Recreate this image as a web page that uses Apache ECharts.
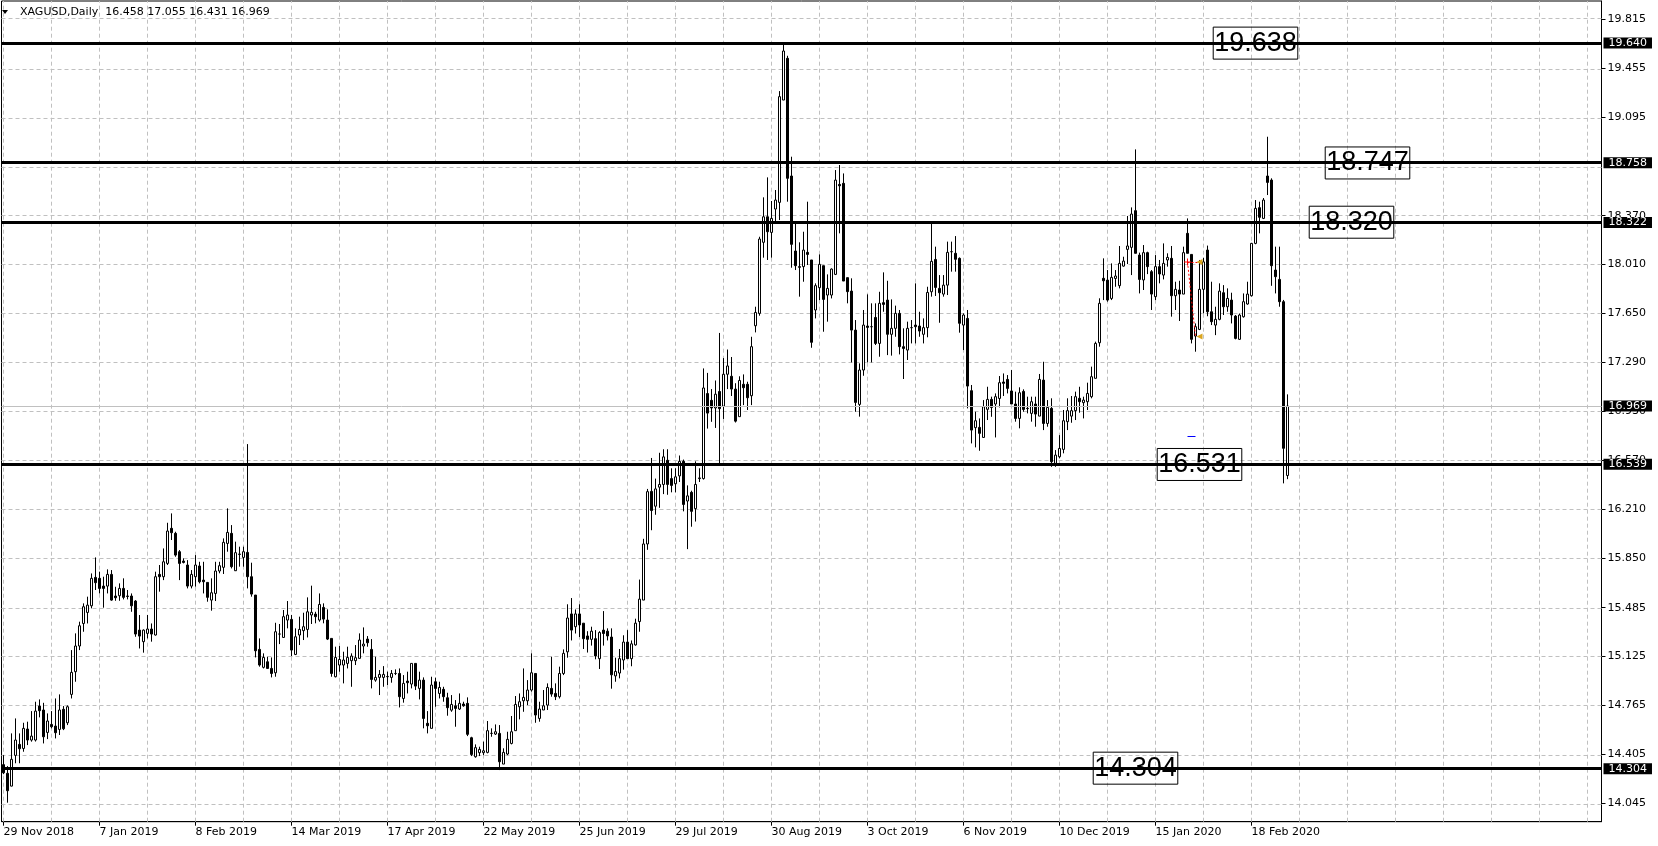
<!DOCTYPE html>
<html>
<head>
<meta charset="utf-8">
<title>XAGUSD Daily</title>
<script src="https://cdn.jsdelivr.net/npm/echarts@6/dist/echarts.min.js"></script>
<style>
  html, body { margin: 0; padding: 0; background: #fff; }
  #chart { width: 1658px; height: 846px; }
</style>
</head>
<body>
<div id="chart"></div>
<script>
// daily bars [open, high, low, close], first bar 29 Nov 2018, last 2 Mar 2020
const ohlc = [
  [14.330, 14.400, 14.260, 14.270], [14.266, 14.319, 14.050, 14.138], [14.172, 14.560, 14.170, 14.369],
  [14.398, 14.670, 14.340, 14.511], [14.479, 14.560, 14.340, 14.447], [14.449, 14.638, 14.425, 14.597],
  [14.592, 14.646, 14.474, 14.511], [14.511, 14.724, 14.499, 14.540], [14.511, 14.793, 14.500, 14.724],
  [14.761, 14.810, 14.678, 14.727], [14.732, 14.785, 14.486, 14.535], [14.567, 14.707, 14.518, 14.651],
  [14.626, 14.724, 14.597, 14.609], [14.614, 14.817, 14.523, 14.565], [14.589, 14.847, 14.548, 14.732],
  [14.737, 14.761, 14.584, 14.594], [14.638, 14.766, 14.621, 14.756], [14.847, 15.173, 14.817, 15.009],
  [15.014, 15.296, 14.940, 15.203], [15.203, 15.382, 15.173, 15.352], [15.369, 15.517, 15.308, 15.492],
  [15.450, 15.566, 15.369, 15.504], [15.499, 15.737, 15.480, 15.701], [15.708, 15.855, 15.615, 15.669],
  [15.701, 15.750, 15.590, 15.627], [15.644, 15.713, 15.485, 15.627], [15.644, 15.767, 15.590, 15.730],
  [15.730, 15.762, 15.536, 15.541], [15.571, 15.639, 15.536, 15.558], [15.573, 15.664, 15.536, 15.627],
  [15.627, 15.701, 15.546, 15.561], [15.571, 15.615, 15.546, 15.568], [15.571, 15.590, 15.455, 15.499],
  [15.534, 15.541, 15.271, 15.291], [15.320, 15.431, 15.185, 15.276], [15.235, 15.325, 15.154, 15.320],
  [15.296, 15.431, 15.259, 15.328], [15.328, 15.369, 15.235, 15.291], [15.284, 15.750, 15.280, 15.713],
  [15.730, 15.799, 15.603, 15.713], [15.713, 15.921, 15.688, 15.823], [15.811, 16.110, 15.799, 16.049],
  [16.069, 16.179, 15.983, 16.037], [16.032, 16.044, 15.860, 15.872], [15.897, 15.909, 15.688, 15.811],
  [15.828, 15.848, 15.811, 15.818], [15.799, 15.835, 15.627, 15.644], [15.644, 15.762, 15.627, 15.730],
  [15.713, 15.872, 15.640, 15.799], [15.792, 15.823, 15.664, 15.676], [15.688, 15.823, 15.590, 15.676],
  [15.671, 15.671, 15.529, 15.561], [15.541, 15.701, 15.463, 15.595], [15.590, 15.823, 15.534, 15.755],
  [15.755, 15.823, 15.738, 15.794], [15.782, 15.995, 15.733, 15.966], [15.958, 16.216, 15.897, 16.039],
  [16.032, 16.093, 15.774, 15.787], [15.757, 15.971, 15.755, 15.890], [15.877, 15.934, 15.787, 15.880],
  [15.855, 15.934, 15.787, 15.897], [15.892, 16.689, 15.627, 15.713], [15.713, 15.816, 15.566, 15.585],
  [15.578, 15.578, 15.119, 15.168], [15.178, 15.259, 15.051, 15.063], [15.046, 15.149, 15.038, 15.119],
  [15.087, 15.124, 15.038, 15.038], [15.038, 15.119, 14.972, 15.001], [15.006, 15.374, 14.977, 15.308],
  [15.291, 15.365, 15.217, 15.291], [15.266, 15.468, 15.266, 15.419], [15.394, 15.534, 15.333, 15.431],
  [15.399, 15.431, 15.129, 15.173], [15.141, 15.333, 15.136, 15.271], [15.284, 15.419, 15.210, 15.325],
  [15.316, 15.448, 15.247, 15.345], [15.325, 15.561, 15.266, 15.455], [15.431, 15.647, 15.365, 15.451],
  [15.438, 15.455, 15.370, 15.419], [15.394, 15.590, 15.382, 15.509], [15.487, 15.517, 15.370, 15.401],
  [15.394, 15.473, 15.247, 15.254], [15.259, 15.259, 14.977, 15.001], [14.977, 15.198, 14.972, 15.119],
  [15.063, 15.203, 15.014, 15.104], [15.063, 15.161, 14.928, 15.100], [15.075, 15.198, 15.038, 15.119],
  [15.095, 15.149, 14.903, 15.129], [15.095, 15.210, 15.063, 15.117], [15.112, 15.296, 15.112, 15.247],
  [15.203, 15.340, 15.149, 15.217], [15.254, 15.276, 15.198, 15.227], [15.178, 15.254, 14.891, 14.957],
  [14.952, 15.124, 14.940, 14.972], [14.972, 15.026, 14.842, 14.994], [14.972, 15.055, 14.903, 14.994],
  [14.977, 15.014, 14.916, 14.979], [14.972, 15.026, 14.933, 15.001], [15.001, 15.031, 14.989, 15.001],
  [15.001, 15.038, 14.751, 14.830], [14.817, 14.989, 14.786, 14.928], [14.945, 15.014, 14.854, 14.933],
  [14.923, 15.075, 14.891, 15.075], [15.075, 15.075, 14.879, 14.908], [14.891, 15.014, 14.810, 14.952],
  [14.952, 14.972, 14.597, 14.670], [14.634, 14.724, 14.560, 14.616], [14.597, 14.977, 14.597, 14.916],
  [14.940, 14.970, 14.756, 14.891], [14.854, 14.940, 14.817, 14.898], [14.884, 14.903, 14.793, 14.830],
  [14.822, 14.859, 14.690, 14.749], [14.731, 14.842, 14.719, 14.773], [14.763, 14.805, 14.609, 14.744],
  [14.739, 14.854, 14.732, 14.781], [14.776, 14.793, 14.756, 14.763], [14.781, 14.825, 14.540, 14.553],
  [14.528, 14.535, 14.393, 14.405], [14.388, 14.479, 14.381, 14.455], [14.418, 14.462, 14.393, 14.442],
  [14.418, 14.499, 14.400, 14.432], [14.420, 14.651, 14.413, 14.580], [14.560, 14.597, 14.535, 14.560],
  [14.555, 14.626, 14.548, 14.572], [14.560, 14.621, 14.290, 14.351], [14.334, 14.450, 14.334, 14.420],
  [14.408, 14.572, 14.400, 14.516], [14.486, 14.688, 14.479, 14.572], [14.580, 14.835, 14.580, 14.773],
  [14.756, 14.854, 14.663, 14.793], [14.800, 15.038, 14.719, 14.825], [14.800, 14.952, 14.768, 14.879],
  [14.879, 15.149, 14.867, 15.006], [15.001, 15.001, 14.638, 14.695], [14.670, 14.793, 14.646, 14.739],
  [14.732, 14.879, 14.732, 14.763], [14.768, 14.928, 14.732, 14.898], [14.891, 15.124, 14.830, 14.849],
  [14.854, 14.928, 14.805, 14.830], [14.830, 15.051, 14.817, 15.001], [15.001, 15.178, 14.989, 15.149],
  [15.160, 15.510, 15.117, 15.409], [15.439, 15.556, 15.244, 15.320], [15.345, 15.472, 15.295, 15.439],
  [15.439, 15.510, 15.269, 15.358], [15.371, 15.371, 15.181, 15.257], [15.277, 15.312, 15.155, 15.252],
  [15.252, 15.345, 15.206, 15.312], [15.257, 15.320, 15.105, 15.130], [15.110, 15.312, 15.034, 15.302],
  [15.320, 15.460, 15.206, 15.295], [15.312, 15.333, 15.244, 15.277], [15.269, 15.333, 14.889, 14.991],
  [14.983, 15.117, 14.940, 15.016], [15.004, 15.181, 14.965, 15.110], [15.100, 15.282, 15.029, 15.232],
  [15.232, 15.320, 15.110, 15.110], [15.110, 15.244, 15.054, 15.219], [15.211, 15.404, 15.206, 15.371],
  [15.383, 15.692, 15.308, 15.548], [15.541, 15.992, 15.541, 15.954], [15.954, 16.359, 15.911, 16.339],
  [16.341, 16.587, 16.055, 16.200], [16.232, 16.435, 16.169, 16.359], [16.372, 16.625, 16.220, 16.392],
  [16.392, 16.651, 16.321, 16.595], [16.570, 16.651, 16.316, 16.392], [16.435, 16.511, 16.334, 16.385],
  [16.397, 16.511, 16.334, 16.448], [16.455, 16.605, 16.410, 16.562], [16.562, 16.575, 16.194, 16.245],
  [16.270, 16.385, 15.916, 16.308], [16.334, 16.346, 16.081, 16.194], [16.214, 16.562, 16.119, 16.392],
  [16.435, 16.511, 16.410, 16.440], [16.435, 17.246, 16.428, 17.102], [17.061, 17.213, 16.803, 16.917],
  [17.011, 17.094, 16.853, 16.955], [16.955, 17.157, 16.808, 17.056], [17.076, 17.507, 16.549, 16.950],
  [16.968, 17.322, 16.874, 17.203], [17.203, 17.385, 17.094, 17.264], [17.188, 17.330, 17.043, 17.094],
  [17.094, 17.137, 16.848, 16.858], [16.891, 17.188, 16.891, 17.157], [17.129, 17.202, 16.976, 17.104],
  [17.129, 17.148, 16.940, 17.030], [17.045, 17.479, 16.976, 17.406], [17.560, 17.700, 17.511, 17.658],
  [17.651, 18.215, 17.634, 18.198], [18.174, 18.505, 18.061, 18.362], [18.362, 18.652, 18.044, 18.252],
  [18.247, 18.478, 18.061, 18.350], [18.419, 18.559, 18.326, 18.485], [18.468, 19.287, 18.338, 19.246],
  [19.221, 19.626, 19.221, 19.582], [19.528, 19.547, 18.473, 18.645], [18.662, 18.804, 17.987, 18.159],
  [18.110, 18.313, 17.970, 18.002], [17.995, 18.174, 17.774, 17.990], [17.995, 18.252, 17.884, 18.117],
  [18.100, 18.473, 18.007, 18.085], [18.044, 18.044, 17.398, 17.438], [17.676, 17.872, 17.614, 17.855],
  [17.840, 18.085, 17.749, 18.012], [18.002, 18.002, 17.516, 17.754], [17.786, 17.938, 17.590, 17.835],
  [17.786, 17.982, 17.761, 17.977], [17.938, 18.706, 17.933, 18.632], [18.600, 18.743, 18.240, 18.590],
  [18.608, 18.681, 17.889, 17.889], [17.914, 17.914, 17.725, 17.811], [17.815, 17.909, 17.290, 17.528],
  [17.528, 17.602, 16.927, 16.996], [16.981, 17.283, 16.891, 17.234], [17.234, 17.676, 17.192, 17.565],
  [17.558, 17.791, 17.290, 17.548], [17.553, 17.725, 17.290, 17.553], [17.621, 17.725, 17.418, 17.430],
  [17.430, 17.810, 17.332, 17.725], [17.730, 17.953, 17.663, 17.717], [17.749, 17.891, 17.344, 17.497],
  [17.497, 17.754, 17.340, 17.541], [17.541, 17.708, 17.479, 17.651], [17.651, 17.676, 17.349, 17.406],
  [17.406, 17.541, 17.168, 17.393], [17.381, 17.590, 17.308, 17.541], [17.546, 17.602, 17.430, 17.546],
  [17.565, 17.872, 17.430, 17.553], [17.558, 17.663, 17.479, 17.521], [17.497, 17.614, 17.430, 17.546],
  [17.546, 17.847, 17.475, 17.805], [17.810, 18.318, 17.774, 18.034], [18.048, 18.142, 17.779, 17.842],
  [17.835, 17.933, 17.582, 17.803], [17.793, 17.933, 17.774, 17.859], [17.859, 18.179, 17.786, 18.100],
  [18.105, 18.179, 17.958, 18.105], [18.093, 18.220, 17.958, 18.049], [18.056, 18.063, 17.509, 17.578],
  [17.565, 17.651, 17.381, 17.639], [17.614, 17.676, 16.952, 17.116], [17.082, 17.124, 16.694, 16.792],
  [16.810, 16.927, 16.665, 16.861], [16.812, 16.878, 16.640, 16.768], [16.738, 17.013, 16.738, 16.964],
  [16.945, 17.111, 16.866, 17.018], [17.018, 17.038, 16.890, 16.959], [16.984, 17.062, 16.738, 17.038],
  [17.025, 17.190, 16.959, 17.141], [17.146, 17.209, 17.043, 17.136], [17.165, 17.197, 17.062, 17.099],
  [17.080, 17.234, 16.984, 16.984], [16.984, 17.075, 16.854, 16.878], [16.878, 17.107, 16.805, 17.067],
  [17.077, 17.092, 16.927, 16.944], [16.952, 17.038, 16.915, 16.950], [16.915, 17.038, 16.854, 17.001],
  [16.984, 17.038, 16.817, 16.910], [16.895, 17.205, 16.895, 17.165], [17.160, 17.295, 16.792, 16.841],
  [16.841, 17.013, 16.817, 16.959], [16.952, 17.026, 16.522, 16.559], [16.547, 16.645, 16.522, 16.608],
  [16.596, 16.755, 16.584, 16.657], [16.650, 16.940, 16.621, 16.861], [16.854, 17.026, 16.792, 16.935],
  [16.895, 17.043, 16.846, 16.935], [16.935, 17.075, 16.866, 17.038], [17.026, 17.111, 16.920, 17.001],
  [16.994, 17.038, 16.878, 17.013], [17.001, 17.141, 16.940, 17.062], [17.038, 17.259, 17.026, 17.185],
  [17.173, 17.443, 17.173, 17.430], [17.435, 17.762, 17.406, 17.725], [17.909, 18.056, 17.749, 17.891],
  [17.896, 17.970, 17.737, 17.749], [17.761, 18.019, 17.749, 17.916], [17.908, 17.970, 17.847, 17.926],
  [17.855, 18.147, 17.835, 18.019], [17.999, 18.068, 17.995, 18.036], [18.122, 18.368, 18.014, 18.147],
  [18.137, 18.431, 17.933, 18.382], [18.407, 18.858, 18.093, 18.093], [18.080, 18.098, 17.798, 17.901],
  [17.897, 18.154, 17.823, 18.098], [18.098, 18.105, 17.940, 17.995], [17.958, 17.970, 17.676, 17.793],
  [17.774, 18.080, 17.749, 17.995], [17.995, 18.044, 17.872, 17.941], [17.933, 18.166, 17.901, 18.019],
  [18.044, 18.093, 17.995, 18.063], [18.056, 18.147, 17.627, 17.781], [17.781, 17.884, 17.676, 17.828],
  [17.823, 17.891, 17.595, 17.793], [17.793, 18.142, 17.793, 18.098], [18.240, 18.350, 18.093, 18.093],
  [18.085, 18.085, 17.430, 17.460], [17.484, 17.577, 17.369, 17.553], [17.533, 18.044, 17.528, 17.828],
  [17.828, 18.060, 17.651, 18.030], [18.117, 18.150, 17.630, 17.663], [17.663, 17.884, 17.565, 17.590],
  [17.565, 17.700, 17.491, 17.607], [17.607, 17.872, 17.600, 17.815], [17.803, 17.859, 17.639, 17.700],
  [17.700, 17.835, 17.663, 17.761], [17.749, 17.803, 17.577, 17.639], [17.631, 17.639, 17.460, 17.467],
  [17.460, 17.650, 17.455, 17.639], [17.626, 17.798, 17.620, 17.737], [17.720, 17.884, 17.715, 17.793],
  [17.781, 18.170, 17.775, 18.166], [18.166, 18.485, 18.160, 18.424], [18.429, 18.473, 18.240, 18.358],
  [18.350, 18.500, 18.345, 18.485], [18.662, 18.951, 18.522, 18.615], [18.632, 18.645, 17.854, 18.002],
  [17.970, 18.142, 17.798, 17.921], [17.901, 18.142, 17.700, 17.737], [17.737, 17.750, 16.400, 16.658],
  [16.458, 17.055, 16.431, 16.969]
];

// days with no bar besides weekends
const closedDays = ['2018-12-24', '2018-12-25', '2019-01-01', '2019-04-19', '2019-12-25', '2020-01-01'];
const monthNames = ['Jan', 'Feb', 'Mar', 'Apr', 'May', 'Jun', 'Jul', 'Aug', 'Sep', 'Oct', 'Nov', 'Dec'];

// price scale labels on the right
const priceTicks = [14.045, 14.405, 14.765, 15.125, 15.485, 15.850, 16.210, 16.570, 16.930,
  17.290, 17.650, 18.010, 18.370, 18.735, 19.095, 19.455, 19.815];
const hiddenTicks = [18.735];

// horizontal levels drawn on the chart
const levels = [19.640, 18.758, 18.322, 16.539, 14.304];
const bidPrice = 16.969;

// text objects placed on the levels
const noteTexts = ['19.638', '18.747', '18.320', '16.531', '14.304'];
const noteBars = [313, 341, 337, 299, 283];
const notePrices = [19.640, 18.758, 18.322, 16.539, 14.304];

// trade history marks
const tradeOpen = [296, 18.03];
const tradeClose = [298, 17.48];
const blueMark = [296, 298, 16.748];

const slotCount = 400;   // bars plus empty space on the right
const yMin = 13.910;
const yMax = 19.950;

function buildDates(n) {
  const out = [];
  const d = new Date(Date.UTC(2018, 10, 29));
  while (out.length < n) {
    const wd = d.getUTCDay();
    const iso = d.toISOString().slice(0, 10);
    if (wd !== 0 && wd !== 6 && closedDays.indexOf(iso) < 0) {
      out.push(d.getUTCDate() + ' ' + monthNames[d.getUTCMonth()] + ' ' + d.getUTCFullYear());
    }
    d.setUTCDate(d.getUTCDate() + 1);
  }
  return out;
}

const dates = buildDates(slotCount);
const candleData = ohlc.map(b => [b[0], b[3], b[2], b[1]]);

const gridColor = '#c0c0c0';
const font = 'DejaVu Sans';
const showDate = (i) => i % 24 === 0 && i < ohlc.length;

const gridLines = [];
priceTicks.forEach(v => gridLines.push({ yAxis: v }));
for (let i = 0; i < slotCount; i += 12) gridLines.push({ xAxis: i });

const levelLines = levels.map(v => ({
  yAxis: v,
  lineStyle: { color: '#000', width: 3, type: 'solid' },
  label: {
    show: true, position: 'end', distance: 2, formatter: v.toFixed(3),
    color: '#fff', backgroundColor: '#000', padding: [0, 5, 0, 5],
    fontFamily: font, fontSize: 11, lineHeight: 11
  }
}));
levelLines.push({
  yAxis: bidPrice,
  lineStyle: { color: '#c0c0c0', width: 1, type: 'solid' },
  label: {
    show: true, position: 'end', distance: 2, formatter: bidPrice.toFixed(3),
    color: '#fff', backgroundColor: '#000', padding: [0, 5, 0, 5],
    fontFamily: font, fontSize: 11, lineHeight: 11
  }
});
levelLines.push([
  { coord: [blueMark[0], blueMark[2]], lineStyle: { color: '#0000ff', width: 1, type: 'solid' } },
  { coord: [blueMark[1], blueMark[2]] }
]);
levelLines.push([
  { coord: tradeOpen, lineStyle: { color: '#ff0000', width: 1, type: [2, 2] } },
  { coord: tradeClose }
]);
levelLines.push([
  { coord: tradeOpen, lineStyle: { color: '#ff0000', width: 1, type: [2, 2] } },
  { coord: [tradeOpen[0] + 3, tradeOpen[1]] }
]);

const notes = noteTexts.map((t, i) => ({
  coord: [noteBars[i], notePrices[i]],
  value: t,
  symbol: 'rect', symbolSize: 0,
  label: {
    show: true, position: 'inside', formatter: t,
    fontFamily: 'Liberation Sans', fontSize: 27, color: '#000',
    borderColor: '#000', borderWidth: 1, padding: [3, 1, 2, 1]
  }
}));
notes.push({
  coord: tradeOpen, symbol: 'path://M0,3H7V4H0ZM3,0H4V7H3Z', symbolSize: 7,
  itemStyle: { color: '#ff0000' }, label: { show: false }
});
notes.push({
  coord: [tradeOpen[0] + 3, tradeOpen[1]], symbol: 'triangle', symbolRotate: 90, symbolSize: 6,
  itemStyle: { color: '#daa520' }, label: { show: false }
});
notes.push({
  coord: [tradeClose[0] + 0.5, tradeClose[1]], symbol: 'triangle', symbolRotate: 90, symbolSize: 6,
  itemStyle: { color: '#daa520' }, label: { show: false }
});

const chart = echarts.init(document.getElementById('chart'));
chart.setOption({
  animation: false,
  backgroundColor: '#fff',
  graphic: [
    { type: 'polygon', shape: { points: [[2, 10], [8, 10], [5, 14]] }, style: { fill: '#000' } },
    {
      type: 'text', left: 20, top: 7,
      style: { text: 'XAGUSD,Daily  16.458 17.055 16.431 16.969', fill: '#000', font: '11px "DejaVu Sans"' }
    }
  ],
  grid: {
    left: 1.5, right: 56.5, top: 1, bottom: 24.3,
    show: true, borderColor: '#000', borderWidth: 1, backgroundColor: 'transparent'
  },
  xAxis: {
    type: 'category',
    data: dates,
    boundaryGap: true,
    axisLine: { show: true, lineStyle: { color: '#000' } },
    axisTick: { show: true, alignWithLabel: true, interval: showDate, length: 4, lineStyle: { color: '#000' } },
    axisLabel: {
      interval: showDate, align: 'left', margin: 5,
      color: '#000', fontFamily: font, fontSize: 11
    },
    splitLine: { show: false }
  },
  yAxis: {
    type: 'value',
    position: 'right',
    min: yMin,
    max: yMax,
    axisLine: { show: true, lineStyle: { color: '#000' } },
    axisTick: {
      show: true, length: 4, lineStyle: { color: '#000' },
      customValues: priceTicks.filter(v => hiddenTicks.indexOf(v) < 0)
    },
    axisLabel: {
      customValues: priceTicks.filter(v => hiddenTicks.indexOf(v) < 0),
      formatter: v => v.toFixed(3),
      margin: 6, color: '#000', fontFamily: font, fontSize: 11
    },
    splitLine: { show: false }
  },
  series: [
    {
      name: 'grid',
      type: 'line',
      data: [],
      z: 1,
      silent: true,
      markLine: {
        z: 1,
        silent: true,
        symbol: 'none',
        animation: false,
        label: { show: false },
        lineStyle: { color: gridColor, width: 1, type: [4, 3] },
        emphasis: { disabled: true },
        data: gridLines
      }
    },
    {
      name: 'XAGUSD',
      type: 'candlestick',
      z: 2,
      barWidth: 3,
      data: candleData,
      itemStyle: {
        color: '#fff',
        color0: '#000',
        borderColor: '#000',
        borderColor0: '#000',
        borderWidth: 1
      }
    },
    {
      name: 'objects',
      type: 'line',
      data: [],
      z: 5,
      silent: true,
      markLine: {
        z: 5,
        silent: true,
        symbol: 'none',
        animation: false,
        emphasis: { disabled: true },
        label: { show: false },
        data: levelLines
      },
      markPoint: {
        z: 6,
        silent: true,
        animation: false,
        data: notes
      }
    }
  ]
});
</script>
</body>
</html>
